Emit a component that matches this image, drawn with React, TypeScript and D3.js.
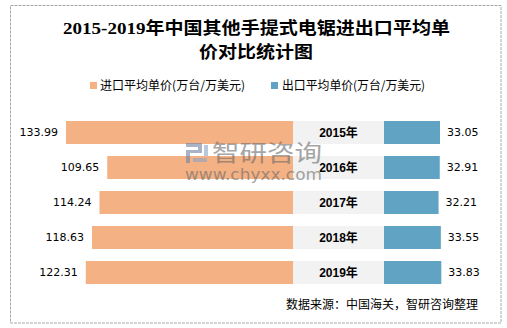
import React from "react";
import * as d3 from "d3";

const years = ["2015年", "2016年", "2017年", "2018年", "2019年"];
const importVals = [133.99, 109.65, 114.24, 118.63, 122.31];
const exportVals = [33.05, 32.91, 32.21, 33.55, 33.83];
const seriesNames = ["进口平均单价(万台/万美元)", "出口平均单价(万台/万美元)"];
const titleLines = ["2015-2019年中国其他手提式电锯进出口平均单", "价对比统计图"];
const sourceText = "数据来源：中国海关，智研咨询整理";

const W = 507;
const H = 328;
const ORANGE = "#F4B183";
const BLUE = "#61A3C2";
const GRAY = "#F2F2F2";
const CENTER = 293;
const GAP_W = 91;

export default function App() {
  const y = d3
    .scaleBand<string>()
    .domain(years)
    .range([115, 290])
    .paddingInner(0.343)
    .paddingOuter(0.1715);
  const k = d3.scaleLinear().domain([0, 133.99]).range([0, 227]);
  const expStart = CENTER + GAP_W;
  const numFont = "DejaVu Sans, Verdana, sans-serif";
  const cjk = "'Noto Sans CJK SC', sans-serif";

  return (
    <svg
      width={W}
      height={H}
      style={{ position: "absolute", left: 0, top: 0, background: "#fff" }}
    >
      <rect x={0} y={0} width={W} height={H} fill="#fff" />
      <rect
        x={10.5}
        y={5.5}
        width={490.5}
        height={317.5}
        fill="#fff"
        stroke="#a6a6a6"
        strokeDasharray="3,1"
      />
      {/* title */}
      <text
        x={256.5}
        y={34}
        textAnchor="middle"
        fontSize={17}
        fontWeight="bold"
        fontFamily="'Liberation Serif', 'Noto Sans CJK SC', serif"
        textLength={387}
        lengthAdjust="spacingAndGlyphs"
        fill="#000"
      >
        {titleLines[0]}
      </text>
      <text
        x={256}
        y={58}
        textAnchor="middle"
        fontSize={17}
        fontWeight="bold"
        fontFamily="'Liberation Serif', 'Noto Sans CJK SC', serif"
        textLength={114}
        lengthAdjust="spacingAndGlyphs"
        fill="#000"
      >
        {titleLines[1]}
      </text>
      {/* legend */}
      <rect x={90} y={82} width={7} height={7} fill={ORANGE} />
      <text x={100} y={89.5} fontSize={12} fontFamily={cjk} fill="#000" textLength={145} lengthAdjust="spacingAndGlyphs">
        {seriesNames[0]}
      </text>
      <rect x={271} y={82} width={7} height={7} fill={BLUE} />
      <text x={282} y={89.5} fontSize={12} fontFamily={cjk} fill="#000" textLength={143} lengthAdjust="spacingAndGlyphs">
        {seriesNames[1]}
      </text>

      {years.map((yr, i) => {
        const top = y(yr)!;
        const bh = y.bandwidth();
        const cy = top + bh / 2;
        const iw = k(importVals[i]);
        const ew = k(exportVals[i]);
        return (
          <g key={yr}>
            <rect x={CENTER - iw} y={top} width={iw} height={bh} fill={ORANGE} />
            <rect x={CENTER} y={top} width={GAP_W} height={bh} fill={GRAY} />
            <rect x={expStart} y={top} width={ew} height={bh} fill={BLUE} />
            <text
              x={CENTER - iw - 8}
              y={cy}
              dy="0.36em"
              textAnchor="end"
              fontSize={11}
              fontFamily={numFont}
              fill="#000"
            >
              {importVals[i].toFixed(2)}
            </text>
            <text
              x={expStart + ew + 7}
              y={cy}
              dy="0.36em"
              fontSize={11}
              fontFamily={numFont}
              fill="#000"
            >
              {exportVals[i].toFixed(2)}
            </text>
            <text
              x={CENTER + GAP_W / 2}
              y={cy}
              dy="0.36em"
              textAnchor="middle"
              fontSize={12}
              fontWeight="bold"
              fontFamily="'Liberation Sans', 'Noto Sans CJK SC', sans-serif"
              fill="#000"
            >
              {yr}
            </text>
          </g>
        );
      })}

      {/* watermark */}
      <g opacity={0.6}>
        <rect x={186} y={143} width={16} height={4} fill="#6f82a3" />
        <rect x={198} y={143} width={4} height={10} fill="#6f82a3" />
        <rect x={186} y={150} width={14} height={3} fill="#6f82a3" />
        <rect x={186} y={150} width={4} height={13} fill="#6f82a3" />
        <rect x={193} y={158} width={14} height={4} fill="#8aa6c9" />
        <rect x={204} y={145} width={4} height={11} fill="#8aa6c9" />
        <text x={212} y={161} fontSize={23} fontFamily={cjk} fill="#6a6a6a" textLength={110} lengthAdjust="spacingAndGlyphs">
          智研咨询
        </text>
        <text x={185} y={180} fontSize={15} fontFamily={numFont} fill="#6a6a6a" textLength={137} lengthAdjust="spacingAndGlyphs">
          www.chyxx.com
        </text>
      </g>

      <text x={286} y={309} fontSize={12} fontFamily={cjk} fill="#000" textLength={192} lengthAdjust="spacingAndGlyphs">
        {sourceText}
      </text>
    </svg>
  );
}
